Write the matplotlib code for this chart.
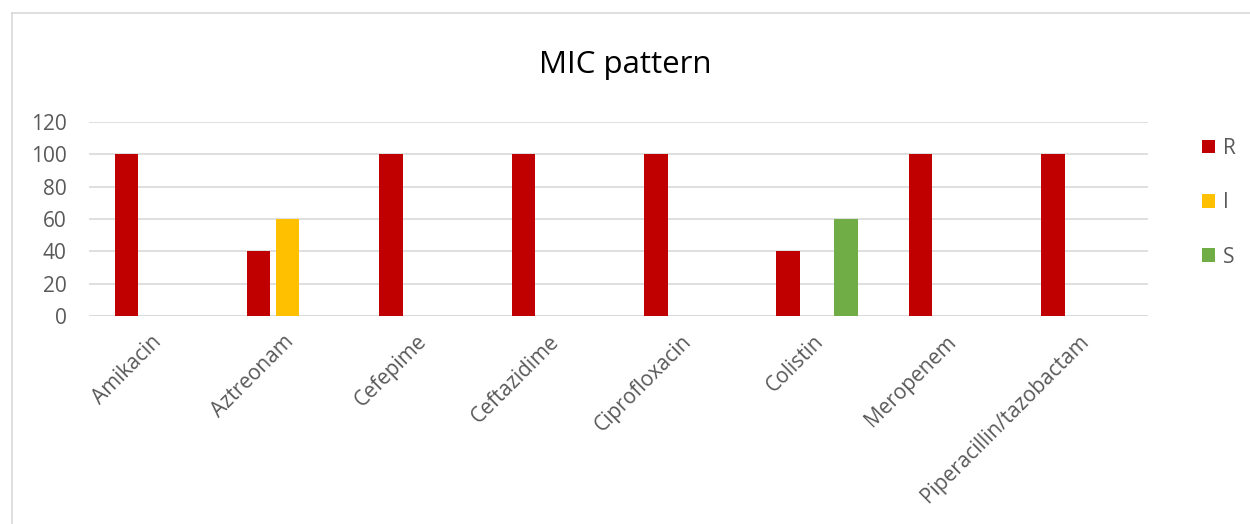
import numpy as np
import matplotlib.pyplot as plt
from matplotlib.lines import Line2D

# data
drugs = ["Amikacin", "Aztreonam", "Cefepime", "Ceftazidime", "Ciprofloxacin",
         "Colistin", "Meropenem", "Piperacillin/tazobactam"]
r_vals = [100, 40, 100, 100, 100, 40, 100, 100]
i_vals = [0, 60, 0, 0, 0, 0, 0, 0]
s_vals = [0, 0, 0, 0, 0, 60, 0, 0]
yticks = [0, 20, 40, 60, 80, 100, 120]

plt.rcParams['font.family'] = ['Open Sans', 'DejaVu Sans']
txt_color = "#595959"

fig = plt.figure(figsize=(12.5, 5.24), dpi=100)
ax = fig.add_axes([89/1250, 1-316/524, (1148-89)/1250, (316-122)/524])

x = np.arange(len(drugs))
w = 0.178
off = 0.218
ax.bar(x - off, r_vals, w, color="#c00000", label="R", zorder=3)
ax.bar(x, i_vals, w, color="#ffc000", label="I", zorder=3)
ax.bar(x + off, s_vals, w, color="#70ad47", label="S", zorder=3)

ax.set_xlim(-0.5, len(drugs) - 0.5)
ax.set_ylim(0, 120)
ax.set_yticks(yticks)
ax.yaxis.grid(True, color="#d9d9d9", linewidth=1.2, zorder=0)
ax.tick_params(axis="y", length=0, labelsize=15, labelcolor=txt_color, pad=16)
ax.tick_params(axis="x", length=0, labelsize=15, labelcolor=txt_color, pad=11)
ax.set_xticks(x - 0.03)
ax.set_xticklabels(drugs, rotation=45, ha="right", rotation_mode="anchor")
for s in ax.spines.values():
    s.set_visible(False)
ax.axhline(0, color="#d9d9d9", linewidth=1.2, zorder=1)

fig.suptitle("MIC pattern", y=0.905, fontsize=22.5, color="black")

leg = ax.legend(loc="upper left", bbox_to_anchor=(1.033, 1.015), frameon=False,
                fontsize=15, labelspacing=1.6, handlelength=0.65,
                handleheight=0.65, handletextpad=0.35)
for t in leg.get_texts():
    t.set_color(txt_color)

# outer chart border (only left and top visible in the crop)
fig.add_artist(Line2D([11.5/1250, 11.5/1250], [0, 1-13/524], transform=fig.transFigure,
                      color="#d9d9d9", linewidth=1.2))
fig.add_artist(Line2D([11.5/1250, 1], [1-13/524, 1-13/524], transform=fig.transFigure,
                      color="#d9d9d9", linewidth=1.2))

plt.savefig("out.png", dpi=100)
